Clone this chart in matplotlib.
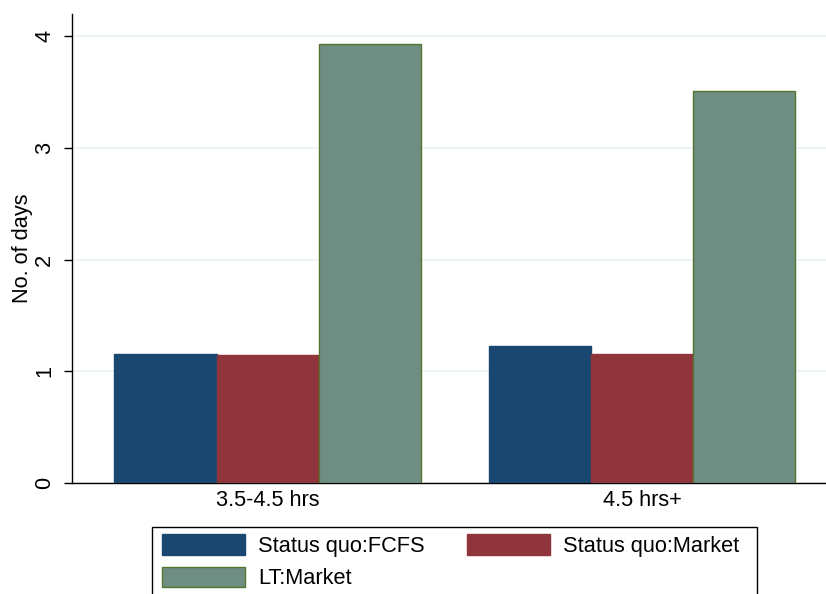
import numpy as np
import matplotlib
matplotlib.use("Agg")
from matplotlib import pyplot as plt
from matplotlib.patches import Rectangle

plt.rcParams['font.family'] = ['Liberation Sans', 'DejaVu Sans']

groups = ['3.5-4.5 hrs', '4.5 hrs+']
series = ['Status quo:FCFS', 'Status quo:Market', 'LT:Market']
fcfs = [1.155, 1.225]
sq_market = [1.145, 1.155]
lt_market = [3.93, 3.51]
yticks = [0, 1, 2, 3, 4]

W, H = 826, 594
fs = 15.7
fig = plt.figure(figsize=(W / 100, H / 100), dpi=100)
# axes placed in pixel terms, as in the reference
ax = fig.add_axes([72 / W, 1 - 483 / H, 754 / W, (483 - 14) / H])

x = np.arange(len(groups))
w = 0.2724
fills = ['#1a476f', '#90353b', '#6e8e84']
edges = ['#1a476f', '#90353b', '#55752f']
handles = []
for k, vals in enumerate([fcfs, sq_market, lt_market]):
    b = ax.bar(x + (k - 1) * w, vals, w, color=fills[k], edgecolor=edges[k],
               linewidth=1.0, label=series[k], zorder=3)
    handles.append(b)

ax.set_xlim(-0.522, 1.491)
ax.set_ylim(0, 4.197)
ax.set_yticks(yticks)
ax.set_yticklabels([str(t) for t in yticks], rotation=90, va='center', fontsize=fs)
ax.set_xticks(x)
ax.set_xticklabels(groups, fontsize=fs)
ax.tick_params(axis='x', length=0, pad=5)
ax.tick_params(axis='y', length=6, width=1, pad=6)
ax.set_ylabel('No. of days', fontsize=fs, labelpad=1)
ax.yaxis.grid(True, color='#eaf2f3', linewidth=1.2, zorder=0)
ax.set_axisbelow(True)
for s in ['top', 'right']:
    ax.spines[s].set_visible(False)
ax.spines['left'].set_linewidth(1.0)
ax.spines['bottom'].set_linewidth(1.0)

# legend filled by column in matplotlib, so reorder to get row order
order = [0, 2, 1]
leg = fig.legend([handles[i] for i in order], [series[i] for i in order],
                 ncol=2, loc='upper left',
                 bbox_to_anchor=(155 / W, 1 - 527 / H),
                 frameon=False, fontsize=fs, handlelength=3.8, handleheight=1.07,
                 handletextpad=0.6, labelspacing=0.45, borderpad=0.33,
                 columnspacing=1.95, borderaxespad=0.0)
# legend box runs off the bottom of the canvas, as in the reference
fig.patches.append(Rectangle((152 / W, -0.05), 605 / W, 1 - 527 / H + 0.05,
                             transform=fig.transFigure, fill=False,
                             edgecolor='black', linewidth=1.0))

fig.savefig('out.png', dpi=100)
